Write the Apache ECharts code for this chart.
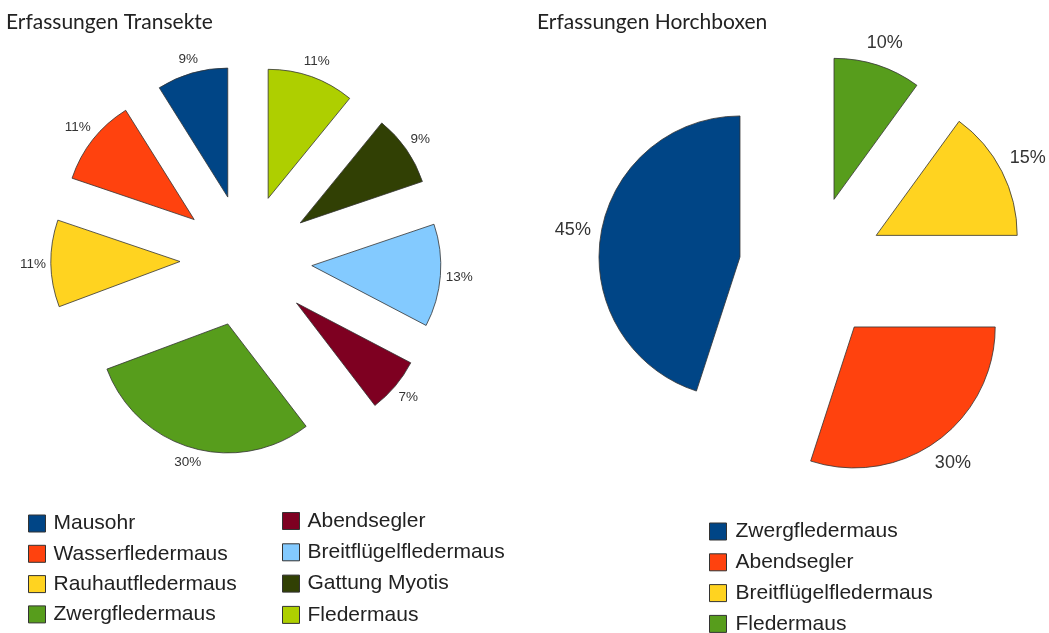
<!DOCTYPE html>
<html>
<head>
<meta charset="utf-8">
<script src="https://cdn.jsdelivr.net/npm/echarts@6/dist/echarts.min.js"></script>
<style>
html,body{margin:0;padding:0;background:#fff;}
#chart{width:1049px;height:633px;}
</style>
</head>
<body>
<div id="chart"></div>
<script>
const transektNames = ['Mausohr','Wasserfledermaus','Rauhautfledermaus','Zwergfledermaus','Abendsegler','Breitflügelfledermaus','Gattung Myotis','Fledermaus'];
const transektValues = [9, 11, 11, 30, 7, 13, 9, 11];
const transektColors = ['#004586','#ff420e','#ffd320','#579d1c','#7e0021','#83caff','#314004','#aecf00'];
const horchNames = ['Zwergfledermaus','Abendsegler','Breitflügelfledermaus','Fledermaus'];
const horchValues = [45, 30, 15, 10];
const horchColors = ['#004586','#ff420e','#ffd320','#579d1c'];
const titles = ['Erfassungen Transekte','Erfassungen Horchboxen'];

const chart = echarts.init(document.getElementById('chart'), null, {renderer:'canvas'});

function pieData(names, values, colors){
  return names.map((n,i)=>({name:n, value:values[i], selected:true, itemStyle:{color:colors[i]}}));
}
function legendData(names, colors){
  return names.map((n,i)=>({name:n, itemStyle:{color:colors[i]}}));
}
// place each label centred just beyond the slice edge along its bisector
function makeLabelLayout(gap){
  return function(p){
    const pts = p.labelLinePoints;
    if(!pts) return {};
    const x1=pts[0][0], y1=pts[0][1], x2=pts[1][0], y2=pts[1][1];
    const L=Math.hypot(x2-x1,y2-y1)||1;
    const ux=(x2-x1)/L, uy=(y2-y1)/L;
    const r=p.labelRect, w=r.width, h=r.height;
    const ext=Math.abs(ux)*w/2+Math.abs(uy)*h/2;
    const tx=x1+ux*(gap+ext), ty=y1+uy*(gap+ext);
    return {dx:tx-(r.x+w/2), dy:ty-(r.y+h/2)};
  };
}
function legendText(pad){
  return {fontFamily:'Liberation Sans', fontSize:21, color:'#222', lineHeight:21, padding:[0,0,0,pad]};
}
const legendCommon = {orient:'vertical', itemWidth:17, itemHeight:17, padding:0, height:200, selectedMode:false, icon:'rect',
  itemStyle:{borderColor:'#333', borderWidth:1}};

const option = {
  animation:false,
  backgroundColor:'#fff',
  title:[
    {text:titles[0], left:6, top:12, padding:0, textStyle:{fontFamily:'Lato', fontSize:21, fontWeight:'normal', color:'#222'}},
    {text:titles[1], left:537, top:12, padding:0, textStyle:{fontFamily:'Lato', fontSize:21, fontWeight:'normal', color:'#222'}}
  ],
  legend:[
    Object.assign({}, legendCommon, {left:28, top:513, itemGap:9.3, textStyle:legendText(3), data:legendData(transektNames.slice(0,4), transektColors.slice(0,4))}),
    Object.assign({}, legendCommon, {left:282, top:510.5, itemGap:10.3, textStyle:legendText(3), data:legendData(transektNames.slice(4), transektColors.slice(4))}),
    Object.assign({}, legendCommon, {left:709, top:521, itemGap:9.8, textStyle:legendText(4), data:legendData(horchNames, horchColors)})
  ],
  series:[
    {
      type:'pie', center:[246,260.5], radius:129, startAngle:90, clockwise:false,
      selectedMode:'multiple', selectedOffset:66, avoidLabelOverlap:false,
      emphasis:{disabled:true},
      itemStyle:{borderColor:'#333', borderWidth:0.8},
      label:{show:true, position:'outside', formatter:'{c}%', fontFamily:'Liberation Sans', fontSize:13.5, color:'#333'},
      labelLine:{show:true, length:4, length2:0, lineStyle:{opacity:0}},
      labelLayout:makeLabelLayout(5),
      data:pieData(transektNames, transektValues, transektColors)
    },
    {
      type:'pie', center:[811.6,268.3], radius:141, startAngle:90, clockwise:false,
      selectedMode:'multiple', selectedOffset:72.5, avoidLabelOverlap:false,
      emphasis:{disabled:true},
      itemStyle:{borderColor:'#333', borderWidth:0.8},
      label:{show:true, position:'outside', formatter:'{c}%', fontFamily:'Liberation Sans', fontSize:18, color:'#333'},
      labelLine:{show:true, length:4, length2:0, lineStyle:{opacity:0}},
      labelLayout:makeLabelLayout(9),
      data:pieData(horchNames, horchValues, horchColors)
    }
  ]
};
chart.setOption(option);
</script>
</body>
</html>
